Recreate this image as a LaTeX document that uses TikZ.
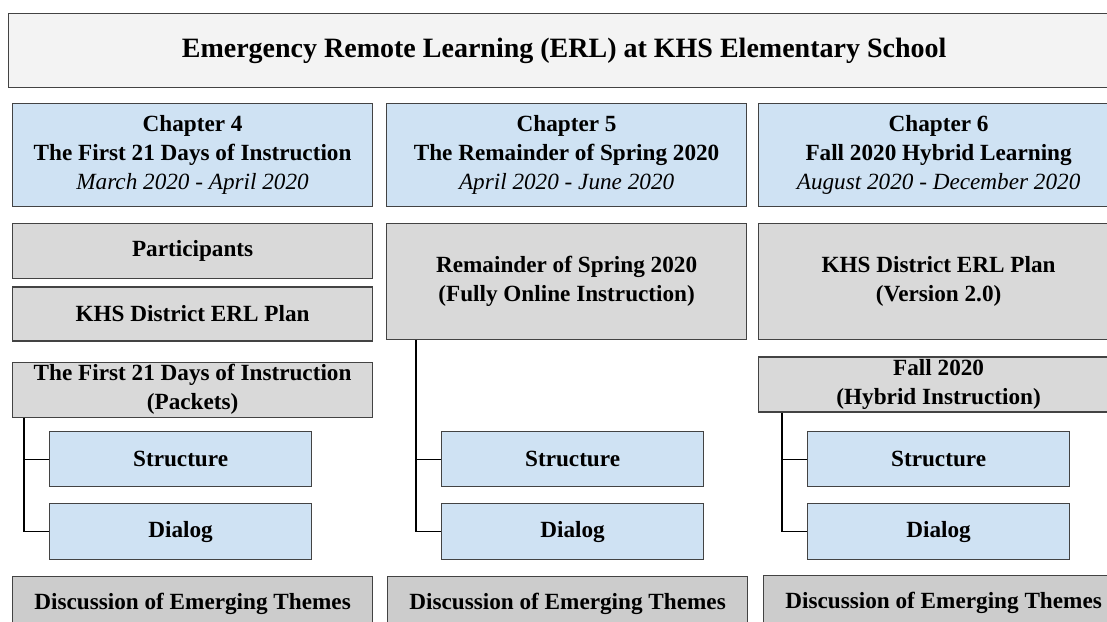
\documentclass[tikz,border=0pt]{standalone}
\usepackage{fontspec}
\setmainfont{Liberation Serif}
\usepackage{tikz}
\usetikzlibrary{positioning}
\definecolor{titlefill}{HTML}{F3F3F3}
\definecolor{chapblue}{HTML}{CFE2F3}
\definecolor{boxgray}{HTML}{D9D9D9}
\definecolor{discgray}{HTML}{CCCCCC}
\definecolor{edgegray}{HTML}{434343}
\tikzset{box/.style={          % Common look of every box
           draw=edgegray,
           line width=0.6pt,
           inner sep=0pt,
           align=center,
           anchor=north west,
           font=\bfseries\fontsize{11.6}{14.5}\selectfont},
         banner/.style={box, fill=titlefill, minimum width=555.5pt,
           minimum height=37pt, font=\bfseries\fontsize{14}{17}\selectfont},
         chapter/.style={box, fill=chapblue, minimum width=180pt,
           minimum height=51.5pt},
         part/.style={box, fill=boxgray, minimum width=180pt}, % Grey column boxes
         sub/.style={box, fill=chapblue, minimum width=131pt,
           minimum height=27.5pt},
         discussion/.style={box, fill=discgray, minimum width=180pt,
           minimum height=27.5pt},
         link/.style={draw=black, line width=0.6pt}}

\begin{document}
\begin{tikzpicture}[x=0.5pt, y=-0.5pt]
\useasboundingbox (0,0) rectangle (1107,621);
\clip (0,0) rectangle (1107,621);

\node[banner] (title) at (8,13) {Emergency Remote Learning (ERL) at KHS Elementary School};

% Chapter 4
\node[chapter] (ch4) at (12,103) {Chapter 4\\The First 21 Days of Instruction\\{\mdseries\itshape March 2020 - April 2020}};
\node[part, minimum height=27.5pt, below=8pt of ch4] (parts) {Participants};
\node[part, minimum height=27pt, below=3.5pt of parts] (plan4) {KHS District ERL Plan};
\node[part, minimum height=27.5pt, below=10pt of plan4] (days) {The First 21 Days of Instruction\\(Packets)};
\node[sub] (str4) at (49,431) {Structure};
\node[sub, minimum height=28pt, below=8pt of str4] (dia4) {Dialog};
\node[discussion] (disc4) at (12,576) {Discussion of Emerging Themes};

% Chapter 5
\node[chapter] (ch5) at (386,103) {Chapter 5\\The Remainder of Spring 2020\\{\mdseries\itshape April 2020 - June 2020}};
\node[part, minimum height=58pt, below=8pt of ch5] (spring) {Remainder of Spring 2020\\(Fully Online Instruction)};
\node[sub] (str5) at (441,431) {Structure};
\node[sub, minimum height=28pt, below=8pt of str5] (dia5) {Dialog};
\node[discussion] (disc5) at (387,576) {Discussion of Emerging Themes};

% Chapter 6
\node[chapter] (ch6) at (758,103) {Chapter 6\\Fall 2020 Hybrid Learning\\{\mdseries\itshape August 2020 - December 2020}};
\node[part, minimum height=58pt, below=8pt of ch6] (plan6) {KHS District ERL Plan\\(Version 2.0)};
\node[part, minimum height=27.5pt, below=8pt of plan6] (fall) {Fall 2020\\(Hybrid Instruction)};
\node[sub] (str6) at (807,431) {Structure};
\node[sub, minimum height=28pt, below=8pt of str6] (dia6) {Dialog};
\node[discussion] (disc6) at (763,575) {Discussion of Emerging Themes};

% branches from each phase to its two sub-boxes
\coordinate[xshift=-12.5pt] (j4) at (str4.west);
\coordinate[xshift=-12.5pt] (j5) at (str5.west);
\coordinate[xshift=-12.5pt] (j6) at (str6.west);
\draw[link] (j4 |- days.south) |- (dia4.west);
\draw[link] (j4) -- (str4.west);
\draw[link] (j5 |- spring.south) |- (dia5.west);
\draw[link] (j5) -- (str5.west);
\draw[link] (j6 |- fall.south) |- (dia6.west);
\draw[link] (j6) -- (str6.west);

\end{tikzpicture}
\end{document}
